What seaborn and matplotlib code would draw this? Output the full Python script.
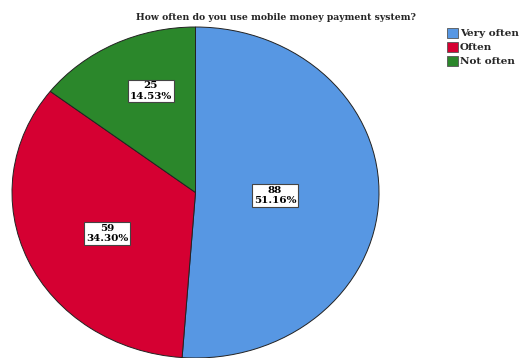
import numpy as np
import matplotlib
matplotlib.use("Agg")
import matplotlib.pyplot as plt
import seaborn as sns
from matplotlib.patches import Patch

sns.set_theme(style="white")
plt.rcParams["font.family"] = ["DejaVu Serif"]

categories = ["Very often", "Often", "Not often"]
counts = [88, 59, 25]
percents = [51.16, 34.30, 14.53]
colors = ["#5797e3", "#d50032", "#2b872b"]
title = "How often do you use mobile money payment system?"

W, H = 520, 358
fig = plt.figure(figsize=(W / 100, H / 100), dpi=100)

# pie axes: ellipse spans x 12..379 px, y 27..358 px
ax = fig.add_axes([12 / W, 0 / H, 367 / W, 331 / H])
wedges, _ = ax.pie(counts, colors=colors, startangle=90, counterclock=False,
                   wedgeprops=dict(edgecolor="#222222", linewidth=0.7))
ax.set_aspect("auto")
ax.set_xlim(-1.0, 1.0)
ax.set_ylim(-1.0, 1.0)
ax.axis("off")

# label boxes near each wedge's mid-angle
label_r = [0.433, 0.54, 0.66]
label_turn = [0.0, 3.0, -4.5]
for w, c, p, r, t in zip(wedges, counts, percents, label_r, label_turn):
    mid = np.deg2rad((w.theta1 + w.theta2) / 2 + t)
    ax.text(r * np.cos(mid), r * np.sin(mid), f"{c}\n{p:.2f}%",
            ha="center", va="center", fontsize=7.5, fontweight="bold",
            linespacing=1.15, color="black",
            bbox=dict(boxstyle="square,pad=0.18", facecolor="white",
                      edgecolor="#444444", linewidth=0.8))

fig.text(276 / W, 1 - 17 / H, title, ha="center", va="center",
         fontsize=6.7, fontweight="bold")

handles = [Patch(facecolor=col, edgecolor="#555555", linewidth=0.6, label=cat)
           for col, cat in zip(colors, categories)]
fig.legend(handles=handles, loc="upper left", bbox_to_anchor=(447 / W, 1 - 28 / H),
           frameon=False, prop=dict(weight="bold", size=7.5),
           handlelength=1.05, handleheight=1.05, handletextpad=0.2,
           labelspacing=0.35, borderpad=0.0, borderaxespad=0.0)

fig.savefig("out.png", dpi=100, facecolor="white")
